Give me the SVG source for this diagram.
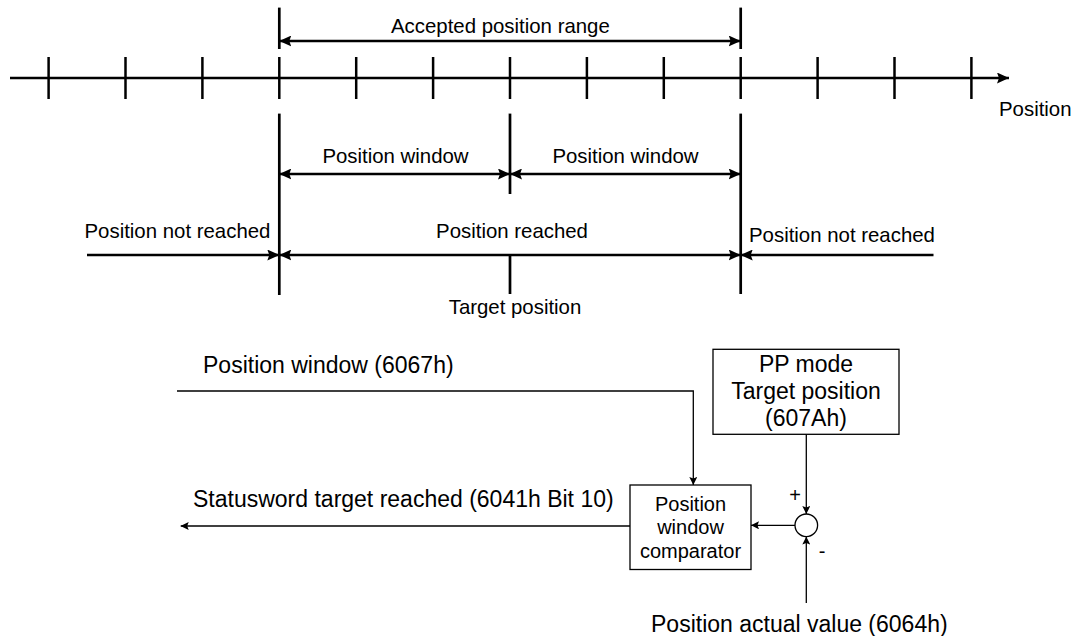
<svg xmlns="http://www.w3.org/2000/svg" width="1074" height="636" viewBox="0 0 1074 636">
<style>
.t{font-family:"Liberation Sans",Arial,Helvetica,sans-serif;font-size:20.4px;fill:#000}
.b{font-family:"Liberation Sans",Arial,Helvetica,sans-serif;font-size:23px;fill:#000}
.c{font-family:"Liberation Sans",Arial,Helvetica,sans-serif;font-size:20px;fill:#000}
.thick{stroke:#000;stroke-width:2.7;fill:none}
.tick{stroke:#000;stroke-width:2.5;fill:none}
.thin{stroke:#000;stroke-width:1.3;fill:none}
.box{stroke:#000;stroke-width:1.3;fill:#fff}
</style>
<defs>
<marker id="big" viewBox="0 0 12 11" refX="12" refY="5.5" markerWidth="12" markerHeight="11" markerUnits="userSpaceOnUse" orient="auto-start-reverse">
<path d="M0,0 L12,5.5 L0,11 L2,5.5 z" fill="#000"/>
</marker>
<marker id="small" viewBox="0 0 8 8" refX="8" refY="4" markerWidth="8" markerHeight="8" markerUnits="userSpaceOnUse" orient="auto-start-reverse">
<path d="M0,0 L8,4 L0,8 L1.5,4 z" fill="#000"/>
</marker>
</defs>

<g id="axis">
<line class="thick" x1="10" y1="78" x2="1009" y2="78" marker-end="url(#big)"/>
<g class="tick">
<line x1="48.6" y1="57" x2="48.6" y2="99"/>
<line x1="125.5" y1="57" x2="125.5" y2="99"/>
<line x1="202.4" y1="57" x2="202.4" y2="99"/>
<line x1="279.3" y1="57" x2="279.3" y2="99"/>
<line x1="356.2" y1="57" x2="356.2" y2="99"/>
<line x1="433.1" y1="57" x2="433.1" y2="99"/>
<line x1="510" y1="57" x2="510" y2="99"/>
<line x1="586.9" y1="57" x2="586.9" y2="99"/>
<line x1="663.8" y1="57" x2="663.8" y2="99"/>
<line x1="740.7" y1="57" x2="740.7" y2="99"/>
<line x1="817.6" y1="57" x2="817.6" y2="99"/>
<line x1="894.5" y1="57" x2="894.5" y2="99"/>
<line x1="971.4" y1="57" x2="971.4" y2="99"/>
</g>
<text class="t" x="999" y="116">Position</text>
</g>

<g id="limits">
<line class="thick" x1="279.3" y1="7.6" x2="279.3" y2="49"/>
<line class="thick" x1="279.3" y1="113.6" x2="279.3" y2="295"/>
<line class="thick" x1="740.7" y1="7.6" x2="740.7" y2="49"/>
<line class="thick" x1="740.7" y1="113.6" x2="740.7" y2="294"/>
<line class="thick" x1="510" y1="113.6" x2="510" y2="194"/>
<line class="thick" x1="510" y1="254" x2="510" y2="294"/>
</g>

<g id="ranges">
<line class="thick" x1="279.3" y1="41" x2="740.7" y2="41" marker-start="url(#big)" marker-end="url(#big)"/>
<text class="t" x="391" y="33">Accepted position range</text>
<line class="thick" x1="279.3" y1="174" x2="510" y2="174" marker-start="url(#big)" marker-end="url(#big)"/>
<line class="thick" x1="510" y1="174" x2="740.7" y2="174" marker-start="url(#big)" marker-end="url(#big)"/>
<text class="t" x="395.5" y="163" text-anchor="middle">Position window</text>
<text class="t" x="625.5" y="163" text-anchor="middle">Position window</text>
<line class="thick" x1="87" y1="255" x2="279.3" y2="255" marker-end="url(#big)"/>
<line class="thick" x1="279.3" y1="255" x2="740.7" y2="255" marker-start="url(#big)" marker-end="url(#big)"/>
<line class="thick" x1="933.5" y1="255" x2="740.7" y2="255" marker-end="url(#big)"/>
<text class="t" x="84.5" y="238">Position not reached</text>
<text class="t" x="512" y="238" text-anchor="middle">Position reached</text>
<text class="t" x="749" y="242">Position not reached</text>
<text class="t" x="515" y="314" text-anchor="middle">Target position</text>
</g>

<g id="window-input">
<text class="b" x="203" y="373">Position window (6067h)</text>
</g>

<g id="pp-target">
<rect class="box" x="713" y="349.3" width="186" height="85"/>
<text class="b" x="806" y="372" text-anchor="middle">PP mode</text>
<text class="b" x="806" y="399" text-anchor="middle">Target position</text>
<text class="b" x="806" y="426" text-anchor="middle">(607Ah)</text>
</g>

<g id="comparator">
<rect class="box" x="630" y="485" width="121" height="84.5"/>
<text class="c" x="690.5" y="510.5" text-anchor="middle">Position</text>
<text class="c" x="690.5" y="534" text-anchor="middle">window</text>
<text class="c" x="690.5" y="557.5" text-anchor="middle">comparator</text>
</g>

<g id="sum">
<circle class="box" cx="806.3" cy="525.3" r="11.3"/>
<text class="c" x="795" y="502" text-anchor="middle">+</text>
<text class="c" x="822" y="558" text-anchor="middle">-</text>
</g>

<g id="status-output">
<text class="b" x="193" y="507.3">Statusword target reached (6041h Bit 10)</text>
</g>

<g id="actual-input">
<text class="b" x="651" y="632">Position actual value (6064h)</text>
</g>

<g id="connectors">
<polyline class="thin" points="177,391 693.3,391 693.3,485" marker-end="url(#small)"/>
<line class="thin" x1="806.3" y1="434.3" x2="806.3" y2="514" marker-end="url(#small)"/>
<line class="thin" x1="806.3" y1="603" x2="806.3" y2="536.6" marker-end="url(#small)"/>
<line class="thin" x1="795" y1="525.3" x2="751" y2="525.3" marker-end="url(#small)"/>
<line class="thin" x1="630" y1="526" x2="180.7" y2="526" marker-end="url(#small)"/>
</g>
</svg>
